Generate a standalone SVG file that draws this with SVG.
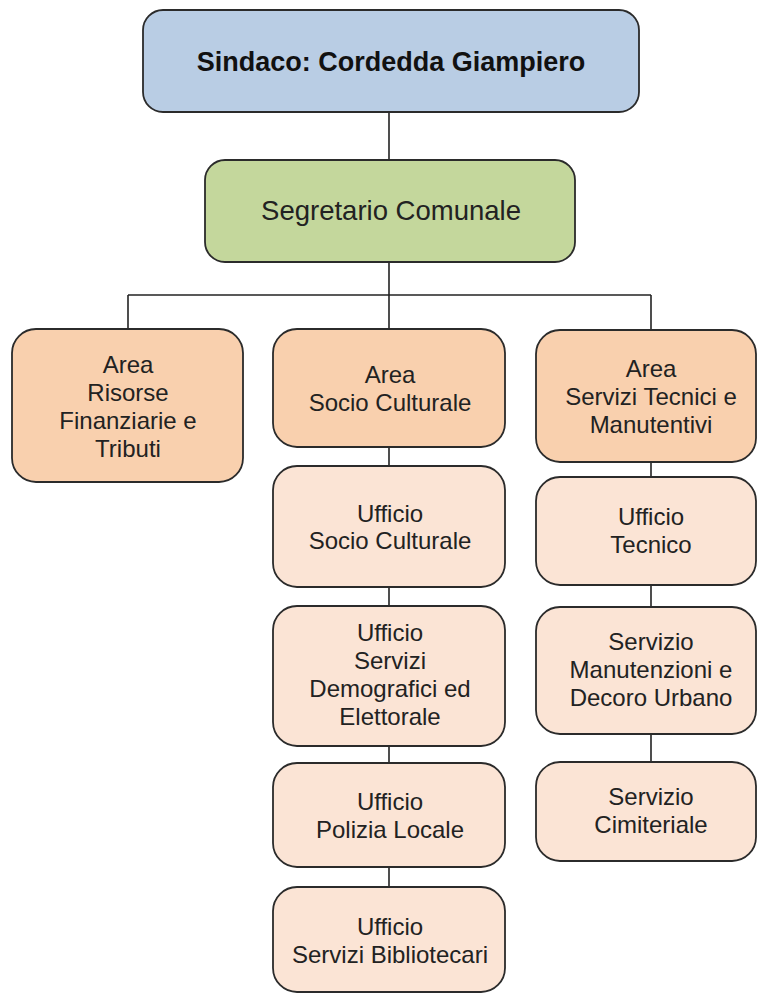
<svg xmlns="http://www.w3.org/2000/svg" width="757" height="994" viewBox="0 0 757 994">
<style>
.box{stroke:#2b2b2b;stroke-width:1.8}
.top{fill:#b9cde4}
.sec{fill:#c4d79c}
.area{fill:#f9d0ae}
.off{fill:#fbe4d5}
text{font-family:"Liberation Sans",Arial,sans-serif;font-size:24px;fill:#222;text-anchor:middle}
.t1{font-weight:bold;font-size:27px;fill:#111}
.t2{font-size:27.5px}
.conn line{stroke:#222;stroke-width:1.6}
</style>
<rect width="757" height="994" fill="#ffffff"/>
<g class="conn" id="connectors">
<line x1="389" y1="112" x2="389" y2="160"/>
<line x1="389" y1="262" x2="389" y2="329"/>
<line x1="128" y1="295" x2="651" y2="295"/>
<line x1="128" y1="295" x2="128" y2="329"/>
<line x1="651" y1="295" x2="651" y2="330"/>
<line x1="389" y1="447" x2="389" y2="466"/>
<line x1="389" y1="587" x2="389" y2="606"/>
<line x1="389" y1="746" x2="389" y2="763"/>
<line x1="389" y1="867" x2="389" y2="887"/>
<line x1="651" y1="462" x2="651" y2="477"/>
<line x1="651" y1="585" x2="651" y2="607"/>
<line x1="651" y1="734" x2="651" y2="762"/>
</g>
<g id="sindaco">
<rect class="box top" x="143" y="10" width="496" height="102" rx="20"/>
<text class="t1" x="391" y="71">Sindaco: Cordedda Giampiero</text>
</g>
<g id="segretario">
<rect class="box sec" x="205" y="160" width="370" height="102" rx="20"/>
<text class="t2" x="391" y="220">Segretario Comunale</text>
</g>
<g id="area-risorse">
<rect class="box area" x="12" y="329" width="231" height="153" rx="24"/>
<text x="128" y="373">Area</text>
<text x="128" y="401">Risorse</text>
<text x="128" y="429">Finanziarie e</text>
<text x="128" y="457">Tributi</text>
</g>
<g id="area-socio">
<rect class="box area" x="273" y="329" width="232" height="118" rx="24"/>
<text x="390" y="383">Area</text>
<text x="390" y="411">Socio Culturale</text>
</g>
<g id="area-tecnici">
<rect class="box area" x="536" y="330" width="220" height="132" rx="24"/>
<text x="651" y="377">Area</text>
<text x="651" y="405">Servizi Tecnici e</text>
<text x="651" y="433">Manutentivi</text>
</g>
<g id="ufficio-socio">
<rect class="box off" x="273" y="466" width="232" height="121" rx="24"/>
<text x="390" y="522">Ufficio</text>
<text x="390" y="549">Socio Culturale</text>
</g>
<g id="ufficio-demografici">
<rect class="box off" x="273" y="606" width="232" height="140" rx="24"/>
<text x="390" y="641">Ufficio</text>
<text x="390" y="669">Servizi</text>
<text x="390" y="697">Demografici ed</text>
<text x="390" y="725">Elettorale</text>
</g>
<g id="ufficio-polizia">
<rect class="box off" x="273" y="763" width="232" height="104" rx="24"/>
<text x="390" y="810">Ufficio</text>
<text x="390" y="838">Polizia Locale</text>
</g>
<g id="ufficio-biblioteca">
<rect class="box off" x="273" y="887" width="232" height="105" rx="24"/>
<text x="390" y="935">Ufficio</text>
<text x="390" y="963">Servizi Bibliotecari</text>
</g>
<g id="ufficio-tecnico">
<rect class="box off" x="536" y="477" width="220" height="108" rx="24"/>
<text x="651" y="525">Ufficio</text>
<text x="651" y="553">Tecnico</text>
</g>
<g id="servizio-manutenzioni">
<rect class="box off" x="536" y="607" width="220" height="127" rx="24"/>
<text x="651" y="650">Servizio</text>
<text x="651" y="678">Manutenzioni e</text>
<text x="651" y="706">Decoro Urbano</text>
</g>
<g id="servizio-cimiteriale">
<rect class="box off" x="536" y="762" width="220" height="99" rx="24"/>
<text x="651" y="805">Servizio</text>
<text x="651" y="833">Cimiteriale</text>
</g>
</svg>
